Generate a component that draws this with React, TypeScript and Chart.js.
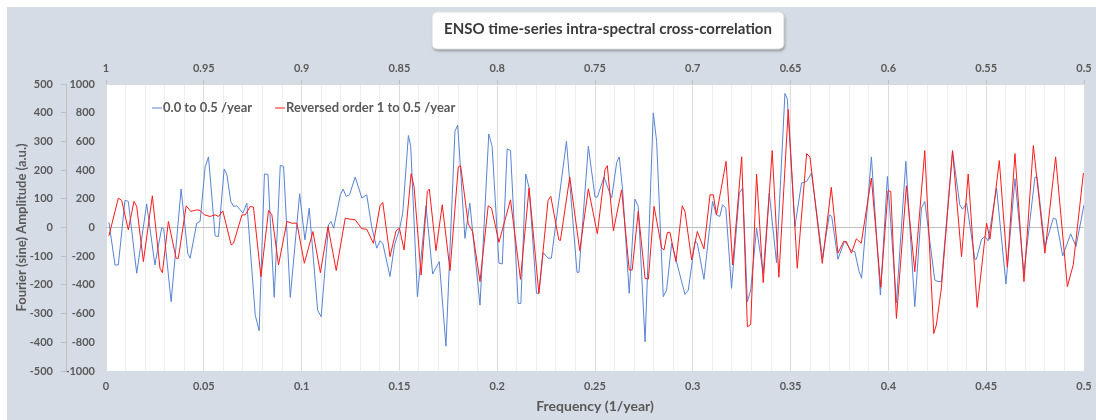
import React, { useEffect, useRef } from "react";
import { Chart, registerables } from "chart.js";

Chart.register(...registerables);

const chartTitle = "ENSO time-series intra-spectral cross-correlation";
const seriesNames = ["0.0 to 0.5 /year", "Reversed order 1 to 0.5 /year"];
const xTitle = "Frequency (1/year)";
const yTitle = "Fourier (sine) Amplitude (a.u.)";

const bottomTicks = [0, 0.05, 0.1, 0.15, 0.2, 0.25, 0.3, 0.35, 0.4, 0.45, 0.5];
const topTicks = [1, 0.95, 0.9, 0.85, 0.8, 0.75, 0.7, 0.65, 0.6, 0.55, 0.5];
const innerTicks = [1000, 800, 600, 400, 200, 0, -200, -400, -600, -800, -1000];
const outerTicks = [500, 400, 300, 200, 100, 0, -100, -200, -300, -400, -500];

const blueFreq = [
  0.0015, 0.0046, 0.0063, 0.0097, 0.0114, 0.0157, 0.0208, 0.025, 0.0285, 0.0295,
  0.0333, 0.0384, 0.0418, 0.043, 0.0464, 0.0481, 0.0507, 0.0524, 0.0558, 0.0575,
  0.0604, 0.0618, 0.0638, 0.0652, 0.0669, 0.0686, 0.07, 0.072, 0.0763, 0.0783,
  0.081, 0.0828, 0.086, 0.0891, 0.0908, 0.0942, 0.099, 0.1017, 0.1039, 0.1082,
  0.11, 0.1138, 0.115, 0.1164, 0.1198, 0.1212, 0.1228, 0.1245, 0.1274, 0.1308,
  0.1333, 0.1358, 0.1384, 0.1401, 0.1415, 0.1452, 0.1475, 0.15, 0.1517, 0.1546,
  0.1558, 0.1592, 0.1636, 0.167, 0.1704, 0.1738, 0.1784, 0.1798, 0.1835, 0.186,
  0.1912, 0.1957, 0.1974, 0.2009, 0.2026, 0.2051, 0.2068, 0.2107, 0.2121, 0.2146,
  0.2163, 0.2201, 0.2213, 0.2235, 0.226, 0.2277, 0.2354, 0.2408, 0.2418, 0.2466,
  0.25, 0.2512, 0.2546, 0.2585, 0.2611, 0.2624, 0.2641, 0.2675, 0.2704, 0.2721,
  0.2756, 0.2798, 0.2815, 0.2849, 0.2866, 0.2892, 0.296, 0.2977, 0.3011, 0.3023,
  0.3057, 0.3101, 0.3121, 0.3138, 0.3152, 0.3169, 0.3198, 0.3238, 0.3255, 0.3279,
  0.3296, 0.3326, 0.336, 0.3391, 0.3428, 0.3471, 0.3483, 0.3522, 0.3556, 0.3582,
  0.3607, 0.3663, 0.3698, 0.371, 0.3742, 0.3776, 0.3793, 0.3811, 0.3828, 0.385,
  0.3863, 0.3913, 0.3959, 0.3995, 0.4041, 0.4089, 0.4135, 0.4169, 0.4186, 0.4237,
  0.4254, 0.4271, 0.4328, 0.4365, 0.4379, 0.44, 0.4442, 0.445, 0.4476, 0.4493,
  0.451, 0.4553, 0.4601, 0.4647, 0.4693, 0.4749, 0.476, 0.48, 0.4843, 0.4857,
  0.4891, 0.4932, 0.4959, 0.5,
];
const blueAmp = [
  37, -261, -261, 189, 182, -319, 165, -261, 0, -10,
  -517, 268, -180, -214, 30, 42, 422, 492, -58, -63,
  408, 368, 182, 147, 151, 123, 100, 170, -610, -720,
  373, 370, -487, 433, 426, -487, 235, -86, 135, -576,
  -622, 19, 42, -5, 228, 268, 217, 228, 352, 205,
  228, 7, -144, -93, -110, -342, -121, -16, 100, 641,
  566, -482, 151, -324, -238, -827, 671, 713, -75, 170,
  -541, 652, 566, -249, -254, 548, 536, -529, -529, 373,
  275, -459, -459, -175, -214, -214, 601, -312, -312, 566,
  212, 212, 352, 205, 454, 492, 263, -459, 198, 147,
  -797, 799, 601, -482, -436, -110, -466, -436, -98, -110,
  -361, 182, 88, 77, 158, 135, -424, 240, 275, -517,
  -436, -5, -319, 240, -245, 934, 897, 7, 310, 321,
  380, -214, 88, 77, -221, -93, -128, -161, -168, -305,
  -354, 492, -471, 356, -524, 461, -552, 135, 182, -366,
  -377, -377, 531, 158, 128, 170, -221, -221, -82, -63,
  -93, 275, -394, 340, -315, 350, 352, -133, 65, 58,
  -198, -44, -133, 158,
];

const redFreq = [
  0.0015, 0.0063, 0.008, 0.0114, 0.0143, 0.0157, 0.0191, 0.0237, 0.0276, 0.0288,
  0.0319, 0.0358, 0.037, 0.041, 0.0433, 0.0464, 0.0481, 0.0503, 0.0532, 0.0558,
  0.0575, 0.0597, 0.064, 0.0652, 0.0695, 0.0712, 0.0737, 0.0754, 0.0792, 0.0831,
  0.0848, 0.0882, 0.0925, 0.095, 0.0976, 0.1014, 0.1058, 0.1096, 0.1135, 0.1177,
  0.1223, 0.1248, 0.1274, 0.1308, 0.1333, 0.1367, 0.1401, 0.1415, 0.1452, 0.1483,
  0.15, 0.1524, 0.156, 0.1575, 0.1611, 0.1643, 0.1653, 0.1687, 0.1719, 0.1759,
  0.1801, 0.1813, 0.1852, 0.1874, 0.1912, 0.1954, 0.1971, 0.2009, 0.2068, 0.2119,
  0.2163, 0.2213, 0.226, 0.2274, 0.2315, 0.2323, 0.2371, 0.2422, 0.2466, 0.2512,
  0.2551, 0.2563, 0.2594, 0.2636, 0.2675, 0.269, 0.2721, 0.2756, 0.2773, 0.2802,
  0.2841, 0.2853, 0.287, 0.2883, 0.2914, 0.2946, 0.296, 0.2994, 0.3023, 0.3057,
  0.3088, 0.3105, 0.3121, 0.317, 0.3204, 0.325, 0.3279, 0.3296, 0.3326, 0.336,
  0.3406, 0.344, 0.3488, 0.3534, 0.3582, 0.3599, 0.3662, 0.3708, 0.3742, 0.3771,
  0.3785, 0.3811, 0.3836, 0.3861, 0.3913, 0.3961, 0.3998, 0.4012, 0.4041, 0.4092,
  0.4135, 0.4186, 0.4232, 0.4245, 0.4271, 0.4328, 0.4374, 0.4408, 0.4454, 0.4502,
  0.4519, 0.4567, 0.4608, 0.4647, 0.4693, 0.4741, 0.48, 0.4855, 0.4915, 0.4945,
  0.4997,
];
const redAmp = [
  -58, 205, 189, -16, 182, 147, -238, 221, -284, -315,
  42, -214, -214, 151, 112, 123, 119, 88, 77, 88,
  77, 116, -121, -110, 88, 88, 147, 142, -342, 119,
  88, -261, 42, 30, 30, -249, -28, -315, 7, -300,
  65, 58, 54, -9, -12, -110, 151, 175, -203, -23,
  -5, -156, 375, 285, -331, 252, 268, -161, 158, -300,
  422, 431, 25, -28, -377, 151, 135, -103, 193, -361,
  275, -459, 189, 217, -86, -91, 352, -161, 270, -44,
  403, 431, -23, 263, -296, -296, 112, -354, -359, 147,
  -144, -156, -35, -33, -238, 151, 112, -226, -28, -149,
  228, 228, 88, 461, -261, 492, -692, -676, 373, -384,
  536, -347, 822, -284, 515, 492, -250, 280, -179, -98,
  -98, -179, -79, -110, 345, -417, 256, 252, -634, 291,
  -308, 536, -739, -680, -420, 536, -203, 373, -557, 30,
  -82, 466, -277, 515, -377, 571, -179, 492, -412, -260,
  380,
];

const FONT = "Lato, 'DejaVu Sans', sans-serif";
const TEXT_COLOR = "#595959";
const BLUE = "#5884D4";
const RED = "#FF1A1A";

const isMajor = (v: number) => Math.abs(v * 20 - Math.round(v * 20)) < 1e-6;
const fmt = (v: number) => String(parseFloat(v.toFixed(3)));

const backgroundPlugin = {
  id: "bgPlugin",
  beforeDraw(chart: any) {
    const { ctx, chartArea } = chart;
    ctx.save();
    ctx.fillStyle = "#D6DCE5";
    ctx.fillRect(0, 0, chart.width, chart.height);
    ctx.fillStyle = "#FFFFFF";
    ctx.fillRect(chartArea.left, chartArea.top, chartArea.right - chartArea.left, chartArea.bottom - chartArea.top);
    ctx.restore();
  },
};

const titlePlugin = {
  id: "titleBox",
  afterDraw(chart: any) {
    const { ctx } = chart;
    const cx = (chart.chartArea.left + chart.chartArea.right) / 2 + 13;
    ctx.save();
    ctx.font = `bold 15px ${FONT}`;
    const tw = ctx.measureText(chartTitle).width;
    const w = tw + 24;
    const h = 37;
    const x = cx - w / 2;
    const y = 5;
    ctx.shadowColor = "rgba(0,0,0,0.35)";
    ctx.shadowBlur = 3;
    ctx.shadowOffsetX = 1;
    ctx.shadowOffsetY = 2;
    ctx.fillStyle = "#FFFFFF";
    ctx.beginPath();
    ctx.roundRect(x, y, w, h, 5);
    ctx.fill();
    ctx.shadowColor = "transparent";
    ctx.strokeStyle = "#E0E0E0";
    ctx.lineWidth = 1;
    ctx.stroke();
    ctx.fillStyle = "#3A3A3A";
    ctx.textAlign = "center";
    ctx.textBaseline = "middle";
    ctx.fillText(chartTitle, cx, y + 17);
    ctx.restore();
  },
};

const legendPlugin = {
  id: "innerLegend",
  afterDatasetsDraw(chart: any) {
    const { ctx } = chart;
    const y = 100.5;
    const items = [
      { x: 145, color: BLUE, text: seriesNames[0] },
      { x: 268, color: RED, text: seriesNames[1] },
    ];
    ctx.save();
    ctx.font = `bold 13px ${FONT}`;
    ctx.textBaseline = "middle";
    ctx.textAlign = "left";
    for (const it of items) {
      ctx.strokeStyle = it.color;
      ctx.lineWidth = 1;
      ctx.beginPath();
      ctx.moveTo(it.x, y + 0.5);
      ctx.lineTo(it.x + 10, y + 0.5);
      ctx.stroke();
      ctx.fillStyle = TEXT_COLOR;
      ctx.fillText(it.text, it.x + 11, y);
    }
    ctx.restore();
  },
};

export default function App() {
  const ref = useRef<HTMLCanvasElement>(null);
  useEffect(() => {
    if (!ref.current) return;
    const tickFont = { family: FONT, size: 11, weight: "bold" as const };
    const gridValues: number[] = [];
    for (let i = 0; i <= 50; i++) gridValues.push(i / 100);
    const chart = new Chart(ref.current, {
      type: "line",
      data: {
        datasets: [
          {
            label: seriesNames[0],
            data: blueFreq.map((f, i) => ({ x: f, y: blueAmp[i] })),
            borderColor: BLUE,
            backgroundColor: BLUE,
            borderWidth: 1,
            pointRadius: 0,
            tension: 0,
            fill: false,
            order: 1,
            xAxisID: "x",
            yAxisID: "y",
          },
          {
            label: seriesNames[1],
            data: redFreq.map((f, i) => ({ x: f, y: redAmp[i] })),
            borderColor: RED,
            backgroundColor: RED,
            borderWidth: 1,
            pointRadius: 0,
            tension: 0,
            fill: false,
            order: 0,
            xAxisID: "x",
            yAxisID: "y",
          },
        ],
      },
      options: {
        responsive: false,
        animation: false,
        layout: { padding: { left: 0, right: 12, top: 0, bottom: 0 } },
        plugins: {
          legend: { display: false },
          title: { display: false },
          tooltip: { enabled: false },
        },
        scales: {
          x: {
            type: "linear",
            position: "bottom",
            min: 0,
            max: 0.5,
            afterBuildTicks: (s: any) => {
              s.ticks = gridValues.map((v) => ({ value: v }));
            },
            afterFit: (s: any) => {
              s.height = 49;
              s.paddingLeft = 0;
              s.paddingRight = 0;
            },
            ticks: {
              autoSkip: false,
              maxRotation: 0,
              padding: 9,
              color: TEXT_COLOR,
              font: tickFont,
              callback: (v: any) => {
                const n = Number(v);
                return isMajor(n) && bottomTicks.some((t) => Math.abs(t - n) < 1e-6) ? fmt(n) : "";
              },
            },
            grid: {
              drawTicks: false,
              lineWidth: 1,
              color: (c: any) => (c.tick && isMajor(c.tick.value) ? "#DCDCDC" : "#EEEEEE"),
            },
            border: { display: false },
            title: {
              display: true,
              text: xTitle,
              color: TEXT_COLOR,
              font: { family: FONT, size: 14, weight: "bold" },
              padding: { top: 0, bottom: 5 },
            },
          },
          x2: {
            type: "linear",
            position: "top",
            min: 0.5,
            max: 1,
            reverse: true,
            afterBuildTicks: (s: any) => {
              s.ticks = topTicks.map((v) => ({ value: v }));
            },
            afterFit: (s: any) => {
              s.height = 77;
              s.paddingLeft = 0;
              s.paddingRight = 0;
            },
            ticks: {
              autoSkip: false,
              maxRotation: 0,
              padding: 5,
              color: TEXT_COLOR,
              font: tickFont,
              callback: (v: any) => fmt(Number(v)),
            },
            grid: {
              drawOnChartArea: false,
              drawTicks: true,
              tickLength: 4,
              color: "#BFBFBF",
            },
            border: { display: true, color: "#D9D9D9" },
          },
          y: {
            type: "linear",
            position: "left",
            weight: 0,
            min: -1000,
            max: 1000,
            afterBuildTicks: (s: any) => {
              s.ticks = innerTicks.map((v) => ({ value: v }));
            },
            afterFit: (s: any) => {
              s.width = 40;
              s.paddingTop = 0;
              s.paddingBottom = 0;
            },
            ticks: {
              padding: 11,
              color: TEXT_COLOR,
              font: tickFont,
              callback: (v: any) => String(v),
            },
            grid: {
              drawTicks: false,
              color: (c: any) => (c.tick && c.tick.value === 0 ? "#BFBFBF" : "rgba(0,0,0,0)"),
            },
            border: { display: false },
          },
          y2: {
            type: "linear",
            position: "left",
            weight: 1,
            min: -500,
            max: 500,
            afterBuildTicks: (s: any) => {
              s.ticks = outerTicks.map((v) => ({ value: v }));
            },
            afterFit: (s: any) => {
              s.width = 59;
              s.paddingTop = 0;
              s.paddingBottom = 0;
            },
            ticks: {
              padding: 8,
              color: TEXT_COLOR,
              font: tickFont,
              callback: (v: any) => String(v),
            },
            grid: {
              drawOnChartArea: false,
              drawTicks: true,
              tickLength: 5,
              color: "#BFBFBF",
            },
            border: { display: true, color: "#BFBFBF" },
            title: {
              display: true,
              text: yTitle,
              color: TEXT_COLOR,
              font: { family: FONT, size: 13, weight: "bold" },
              padding: { top: 7, bottom: 0 },
            },
          },
        },
      },
      plugins: [backgroundPlugin, titlePlugin, legendPlugin],
    } as any);
    return () => chart.destroy();
  }, []);
  return (
    <div style={{ position: "fixed", left: 7, top: 7, width: 1089, height: 413 }}>
      <canvas ref={ref} width={1089} height={413} style={{ display: "block" }} />
    </div>
  );
}
